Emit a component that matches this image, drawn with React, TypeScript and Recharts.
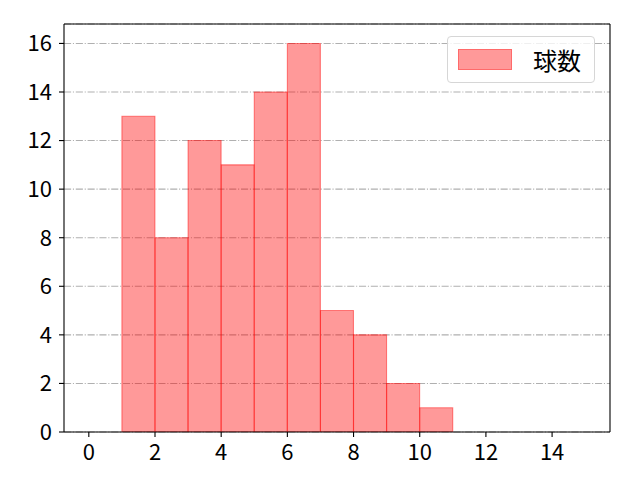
import { BarChart, Bar, XAxis, YAxis, CartesianGrid, Legend, ReferenceLine } from "recharts";

// histogram bins: [left, left + 1)
const binLefts = [0, 1, 2, 3, 4, 5, 6, 7, 8, 9, 10, 11, 12, 13, 14];
const counts = [0, 13, 8, 12, 11, 14, 16, 5, 4, 2, 1, 0, 0, 0, 0];
const xTicks = [0, 2, 4, 6, 8, 10, 12, 14];
const yTicks = [0, 2, 4, 6, 8, 10, 12, 14, 16];
const seriesName = "球数";

const data = binLefts.map((left, i) => ({ x: left + 0.5, count: counts[i] }));

const W = 640;
const H = 480;
const MARGIN = { top: 24, right: 30, bottom: 0, left: 0 };
const Y_AXIS_W = 64;
const X_AXIS_H = 48;
const X_DOMAIN: [number, number] = [-0.75, 15.75];
const Y_DOMAIN: [number, number] = [0, 16.8];

const FONT = '"Noto Sans CJK JP", "Noto Sans", sans-serif';
const tickStyle = { fill: "#000", fontSize: 22, fontFamily: FONT };
const spine = { stroke: "#000", strokeWidth: 1.1 };

function LegendBox({ payload }: any) {
  const item = payload && payload[0];
  return (
    <div
      style={{
        display: "flex",
        alignItems: "center",
        width: 146,
        height: 45,
        border: "1px solid #d6d6d6",
        borderRadius: 4,
        background: "rgba(255,255,255,0.8)",
        boxSizing: "content-box",
        fontFamily: FONT,
        fontSize: 24,
        color: "#000",
      }}
    >
      <span
        style={{
          display: "inline-block",
          width: 52,
          height: 19,
          marginLeft: 10,
          marginRight: 21,
          background: "rgba(255,0,0,0.4)",
          border: "1px solid rgba(255,0,0,0.3)",
        }}
      />
      <span>{item ? item.value : seriesName}</span>
    </div>
  );
}

export default function App() {
  return (
    <div style={{ position: "absolute", left: 0, top: 0, width: W, height: H, background: "#fff" }}>
      <BarChart width={W} height={H} data={data} margin={MARGIN} barGap={0} barCategoryGap="0%">
        <CartesianGrid
          vertical={false}
          stroke="#b0b0b0"
          strokeWidth={1.1}
          strokeDasharray="7.1 1.8 1.1 1.8"
        />
        <XAxis
          dataKey="x"
          type="number"
          domain={X_DOMAIN}
          ticks={xTicks}
          allowDataOverflow
          height={X_AXIS_H}
          tickSize={5}
          tickMargin={7}
          axisLine={spine}
          tickLine={spine}
          tick={tickStyle}
        />
        <YAxis
          type="number"
          domain={Y_DOMAIN}
          ticks={yTicks}
          allowDataOverflow
          width={Y_AXIS_W}
          tickSize={5}
          tickMargin={7}
          axisLine={spine}
          tickLine={spine}
          tick={tickStyle}
        />
        <Legend
          layout="vertical"
          align="center"
          verticalAlign="middle"
          content={<LegendBox />}
          wrapperStyle={{ left: 447, top: 36, width: "auto", height: "auto" }}
        />
        <Bar
          dataKey="count"
          name={seriesName}
          fill="rgba(255,0,0,0.4)"
          stroke="rgba(255,0,0,0.45)"
          strokeWidth={1.1}
          isAnimationActive={false}
        />
        {/* top and right spines */}
        <ReferenceLine y={Y_DOMAIN[1]} {...spine} />
        <ReferenceLine x={X_DOMAIN[1]} {...spine} />
      </BarChart>
    </div>
  );
}
